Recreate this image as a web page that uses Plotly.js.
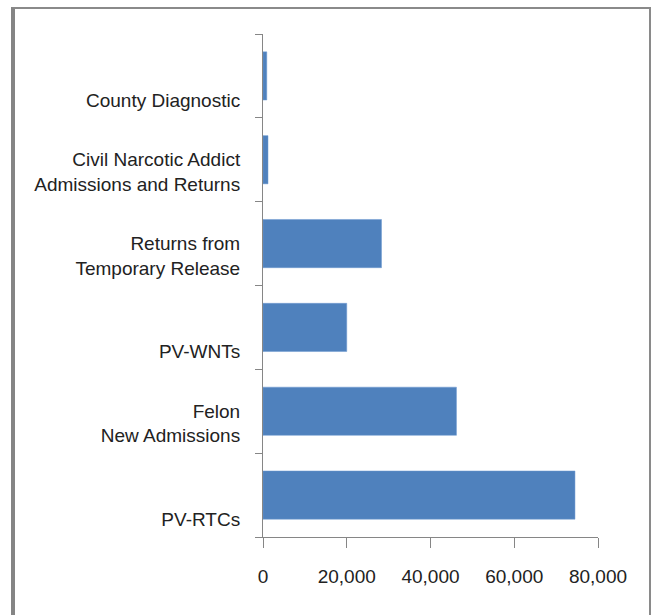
<!DOCTYPE html>
<html>
<head>
<meta charset="utf-8">
<script src="https://cdn.plot.ly/plotly-3.0.1.min.js"></script>
<style>
  html, body { margin: 0; padding: 0; background: #ffffff; overflow: hidden; }
  #wrap { position: relative; width: 653px; height: 615px; overflow: hidden; }
  #frame { position: absolute; left: 11px; top: 7px; width: 640px; height: 640px;
           border: 2px solid #8a8a8a; border-left: 4px solid #858585; box-sizing: border-box; pointer-events: none; }
  #chart { position: absolute; left: 0; top: 0; width: 653px; height: 615px; }
</style>
</head>
<body>
<div id="wrap">
  <div id="chart"></div>
  <div id="frame"></div>
</div>
<script>
// Categories, bottom to top
const categories = [
  "PV-RTCs",
  "Felon<br>New Admissions",
  "PV-WNTs",
  "Returns from<br>Temporary Release",
  "Civil Narcotic Addict<br>Admissions and Returns",
  "County Diagnostic"
];
const admissions = [74500, 46200, 20000, 28300, 1200, 900];
const xTickValues = [0, 20000, 40000, 60000, 80000];
const xTickLabels = ["0", "20,000", "40,000", "60,000", "80,000"];

// Single-line labels sit lower in the original; pad them with a blank line above.
const displayLabels = categories.map(c => c.indexOf("<br>") === -1 ? "<br>" + c : c);

const trace = {
  type: "bar",
  orientation: "h",
  y: categories,
  x: admissions,
  marker: { color: "#4F81BD", line: { color: "#6f9bd0", width: 0.5 } },
  hoverinfo: "x+y"
};

const layout = {
  width: 653,
  height: 615,
  margin: { l: 263, r: 55, t: 34, b: 78, pad: 0 },
  paper_bgcolor: "#ffffff",
  plot_bgcolor: "#ffffff",
  showlegend: false,
  bargap: 0.425,
  font: { family: "Liberation Sans, Arial, sans-serif", size: 19, color: "#222222" },
  xaxis: {
    range: [0, 80000],
    tickvals: xTickValues,
    ticktext: xTickLabels,
    showgrid: false,
    zeroline: false,
    showline: true,
    linecolor: "#868686",
    linewidth: 1,
    ticks: "outside",
    ticklen: 10,
    tickcolor: "#868686",
    ticklabelstandoff: 12,
    tickfont: { size: 19, color: "#222222" },
    fixedrange: true
  },
  yaxis: {
    type: "category",
    categoryorder: "array",
    categoryarray: categories,
    tickvals: categories,
    ticktext: displayLabels,
    tickson: "boundaries",
    showgrid: false,
    zeroline: false,
    showline: true,
    linecolor: "#868686",
    linewidth: 1,
    ticks: "outside",
    ticklen: 7,
    tickcolor: "#868686",
    ticklabelstandoff: 18,
    ticklabelshift: 12,
    tickfont: { size: 19, color: "#222222" },
    fixedrange: true
  }
};

Plotly.newPlot("chart", [trace], layout, { displayModeBar: false, staticPlot: true });
</script>
</body>
</html>
